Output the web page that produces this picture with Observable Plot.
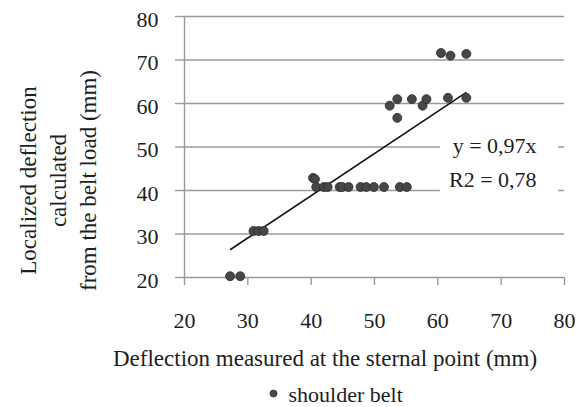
<!DOCTYPE html>
<html><head><meta charset="utf-8">
<script src="https://cdn.jsdelivr.net/npm/d3@7"></script>
<script src="https://cdn.jsdelivr.net/npm/@observablehq/plot@0.6"></script>
<style>
body{margin:0;background:#fff}
#chart svg{font-family:"Liberation Serif","Times New Roman",serif;}
</style>
</head><body><div id="chart"></div>
<script>
// Data
const sternal   = [27.2, 28.8, 30.9, 31.7, 32.5, 40.3, 40.6,
                   40.8, 42.0, 42.6, 44.5, 44.9, 45.9, 47.8, 48.7, 49.9, 51.5, 54.0, 55.1,
                   52.4, 53.6, 53.6, 55.9, 57.6, 58.2, 61.6, 64.5, 60.5, 62.0, 64.5];
const localized = [20.3, 20.3, 30.7, 30.7, 30.7, 42.9, 42.6,
                   40.8, 40.8, 40.8, 40.8, 40.8, 40.8, 40.8, 40.8, 40.8, 40.8, 40.8, 40.8,
                   59.5, 61.0, 56.7, 61.0, 59.5, 61.0, 61.3, 61.3, 71.6, 71.0, 71.4];
const xTicks = [20, 30, 40, 50, 60, 70, 80];
const yTicks = [20, 30, 40, 50, 60, 70, 80];
const slope = 0.97;
const eqLines = ["y = 0,97x", "R2 = 0,78"];
const eqAt = [75.6, 40.7];          // annotation anchor (data units)
const eqBox = [60.4, 79.05, 39, 53]; // white box behind annotation (data units)
const seriesName = "shoulder belt";
const xTitle = "Deflection measured at the sternal point (mm)";
const yTitle = ["Localized deflection", "calculated", "from the belt load (mm)"];

const points = sternal.map((x, i) => ({x, y: localized[i]}));
const xMin = d3.min(sternal), xMax = d3.max(sternal);

const grid = "#9a9a9a";
const ink = "#1e1e1e";

const plot = Plot.plot({
  width: 580,
  height: 407,
  marginTop: 16,
  marginBottom: 130,
  marginLeft: 184,
  marginRight: 16,
  style: {fontFamily: "Liberation Serif, Times New Roman, serif", fontSize: "22px", color: ink, background: "#fff"},
  x: {domain: [20, 80]},
  y: {domain: [20, 80]},
  marks: [
    Plot.ruleY(yTicks, {stroke: grid, strokeWidth: 1.4}),
    Plot.ruleX([20], {stroke: grid, strokeWidth: 1.4}),
    Plot.rect([eqBox], {x1: d => d[0], x2: d => d[1], y1: d => d[2], y2: d => d[3], fill: "white"}),
    Plot.axisY(yTicks, {tickSize: 9, tickFormat: () => "", label: null, stroke: grid, strokeWidth: 1.4}),
    Plot.axisY(yTicks, {tickSize: 0, tickPadding: 26, dy: 3, label: null, fontSize: 22, fill: ink, stroke: "none"}),
    Plot.axisX(xTicks, {tickSize: 8, tickPadding: 27, label: null, fontSize: 22, fill: ink, stroke: grid, strokeWidth: 1.4}),
    Plot.link([0], {x1: () => xMin, y1: () => slope * xMin, x2: () => xMax, y2: () => slope * xMax, stroke: "#111", strokeWidth: 1.6}),
    Plot.dot(points, {x: "x", y: "y", r: 4.5, fill: "#474747", stroke: "#2c2c2c", strokeWidth: 0.8}),
    Plot.text([eqLines.join("\n")], {x: () => eqAt[0], y: () => eqAt[1], text: d => d, textAnchor: "end", lineAnchor: "bottom", lineHeight: 1.55, fontSize: 22, fill: ink}),
    Plot.text([xTitle], {frameAnchor: "bottom", dx: -49.5, dy: 88, textAnchor: "middle", lineAnchor: "bottom", fontSize: 23, fill: ink}),
    Plot.text([yTitle.join("\n")], {frameAnchor: "left", rotate: -90, dx: -128, dy: 33.5, lineHeight: 1.3, textAnchor: "middle", lineAnchor: "middle", fontSize: 23, fill: ink}),
    Plot.dot([seriesName], {frameAnchor: "bottom-left", dx: 89, dy: 116, r: 3.6, fill: "#474747", stroke: "#2c2c2c", strokeWidth: 0.6}),
    Plot.text([seriesName], {frameAnchor: "bottom-left", dx: 104, dy: 124, textAnchor: "start", lineAnchor: "bottom", fontSize: 22, fill: ink})
  ]
});
document.getElementById("chart").appendChild(plot);
</script>
</body></html>
